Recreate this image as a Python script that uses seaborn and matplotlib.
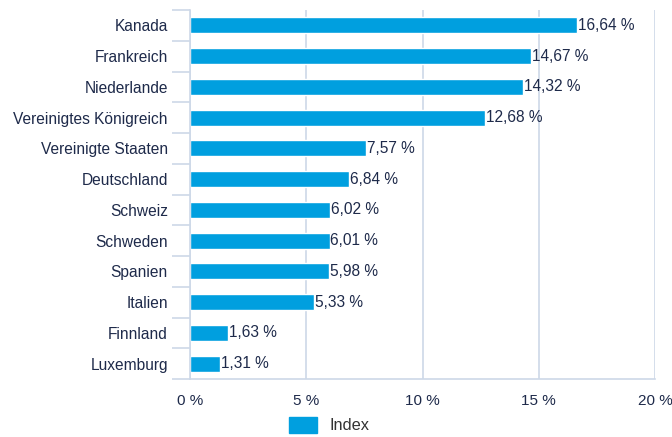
import pandas as pd
import seaborn as sns
import matplotlib.pyplot as plt
from matplotlib.patches import Patch
from matplotlib.ticker import FixedLocator

laender = ["Kanada", "Frankreich", "Niederlande", "Vereinigtes Königreich",
           "Vereinigte Staaten", "Deutschland", "Schweiz", "Schweden",
           "Spanien", "Italien", "Finnland", "Luxemburg"]
anteile = [16.64, 14.67, 14.32, 12.68, 7.57, 6.84, 6.02, 6.01, 5.98, 5.33, 1.63, 1.31]
x_ticks = [0, 5, 10, 15, 20]
x_labels = ["0 %", "5 %", "10 %", "15 %", "20 %"]

blau = "#009fdf"
text_farbe = "#1e2a4a"
gitter = "#cdd8e8"

sns.set_style("white")
plt.rcParams['font.family'] = ['Liberation Sans', 'DejaVu Sans']

data = pd.DataFrame({"Land": laender, "Anteil": anteile})

fig = plt.figure(figsize=(6.72, 4.37), dpi=100)
ax = fig.add_axes([190 / 672, 1 - 379 / 437, 465 / 672, 369 / 437])
sns.barplot(data=data, x="Anteil", y="Land", ax=ax, color=blau, width=0.52,
            saturation=1, orient="h")

# Werte an den Balken
ax.bar_label(ax.containers[0],
             labels=[f"{v:.2f}".replace(".", ",") + " %" for v in anteile],
             padding=0.5, fontsize=11.2, color=text_farbe)

ax.set_xlim(0, 20)
ax.set_ylim(len(laender) - 0.5, -0.5)
ax.set_xticks(x_ticks)
ax.set_xticklabels(x_labels, fontsize=11, color=text_farbe)
ax.tick_params(axis="x", length=0, pad=11)
ax.tick_params(axis="y", which="major", left=False, length=0, pad=16, labelsize=11.2,
               labelcolor=text_farbe)
ax.yaxis.set_minor_locator(FixedLocator([i - 0.5 for i in range(len(laender) + 1)]))
ax.tick_params(axis="y", which="minor", left=True, length=13, width=1.2, color=gitter)
ax.set_xlabel("")
ax.set_ylabel("")

ax.grid(axis="x", color=gitter, linewidth=1.2)
ax.set_axisbelow(True)
for s in ["top", "right"]:
    ax.spines[s].set_visible(False)
for s in ["left", "bottom"]:
    ax.spines[s].set_color(gitter)
    ax.spines[s].set_linewidth(1.2)

fig.legend(handles=[Patch(color=blau, label="Index")], loc="center",
           bbox_to_anchor=(0.49, 1 - 425 / 437), frameon=False,
           fontsize=11.8, labelcolor="#333333", handlelength=1.7, handleheight=1.2)

plt.savefig("out.png", dpi=100)
